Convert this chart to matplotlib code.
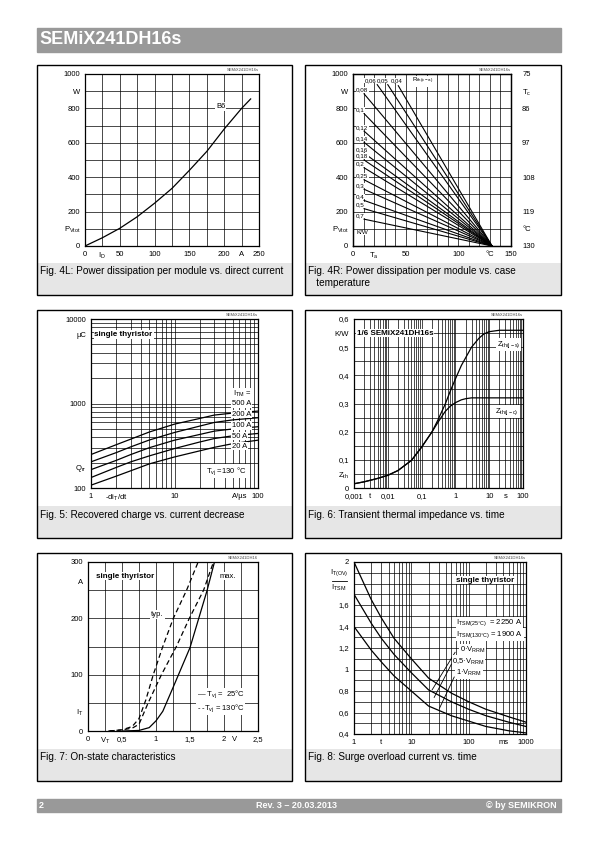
import matplotlib
matplotlib.use('Agg')
import matplotlib.pyplot as plt
from matplotlib.patches import Rectangle
from matplotlib.lines import Line2D

plt.rcParams['font.family'] = ['Liberation Sans', 'DejaVu Sans']
plt.rcParams['mathtext.fontset'] = 'custom'
plt.rcParams['mathtext.rm'] = 'Liberation Sans'
plt.rcParams['mathtext.it'] = 'Liberation Sans:italic'
plt.rcParams['mathtext.bf'] = 'Liberation Sans:bold'

# ---- data ----
# Fig. 4L  P_Vtot vs I_D (B6)
id_a = [0, 25, 50, 75, 100, 125, 150, 175, 200, 225, 238]
pv_b6 = [0, 48, 103, 170, 249, 335, 440, 550, 680, 800, 855]

# Fig. 4R  straight lines P_Vtot vs T_a for each R_th(c-a)
rth_ca = [0.04, 0.05, 0.06, 0.08, 0.1, 0.12, 0.14, 0.16, 0.18, 0.2, 0.25, 0.3, 0.4, 0.5, 0.7]
ta_start = [43, 33, 23, 10.5, 10.5, 10.5, 10.5, 10.5, 10.5, 10.5, 10.5, 10.5, 10.5, 10.5, 10.5]
p_start = [932, 938, 938, 885, 770, 668, 603, 540, 500, 455, 385, 330, 265, 217, 156]
ta_end = 132
tc_labels = ['130', '°C', '119', '108', '97', '86', r'T$_{\mathrm{c}}$', '75']

# Fig. 5  Q_rr vs -di/dt
didt = [1, 2, 3, 5, 10, 20, 30, 50, 100]
qrr_20 = [108, 138, 160, 193, 233, 275, 303, 335, 368]
qrr_50 = [133, 175, 204, 240, 293, 350, 385, 415, 442]
qrr_100 = [165, 212, 249, 300, 368, 430, 471, 500, 531]
qrr_200 = [204, 262, 307, 370, 454, 540, 597, 640, 678]
qrr_500 = [249, 325, 379, 460, 570, 665, 730, 770, 813]
itm_names = ['500 A', '200 A', '100 A', '50 A', '20 A']

# Fig. 6  transient thermal impedance
t_s = [0.001, 0.002, 0.005, 0.01, 0.02, 0.05, 0.1, 0.2, 0.3, 0.5, 0.7, 1, 1.5, 2, 3, 5, 7, 10, 20, 50, 100]
zth_js = [0.015, 0.022, 0.034, 0.045, 0.062, 0.098, 0.145, 0.198, 0.24, 0.298, 0.343, 0.387, 0.435, 0.462, 0.5, 0.532, 0.547, 0.555, 0.56, 0.56, 0.56]
zth_jc = [0.015, 0.022, 0.034, 0.045, 0.062, 0.098, 0.145, 0.198, 0.232, 0.272, 0.29, 0.303, 0.313, 0.317, 0.32, 0.32, 0.32, 0.32, 0.32, 0.32, 0.32]

# Fig. 7  on-state characteristics
vt_typ130 = [0.32, 0.5, 0.65, 0.75, 0.85, 0.96, 1.1, 1.255, 1.45, 1.62]
it_typ130 = [0, 2, 8, 22, 55, 100, 150, 200, 250, 300]
vt_max130 = [0.3, 0.5, 0.65, 0.75, 0.885, 1.08, 1.3, 1.49, 1.7, 1.845]
it_max130 = [0, 2, 5, 12, 50, 100, 150, 200, 250, 300]
vt_25 = [0.52, 0.75, 0.9, 1.0, 1.1, 1.25, 1.5, 1.75, 1.86]
it_25 = [0, 1, 6, 18, 35, 77, 148, 249, 300]

# Fig. 8  surge overload current
t_ms = [1, 2, 3, 5, 10, 20, 50, 100, 200, 500, 1000]
surge_0 = [2.0, 1.65, 1.48, 1.29, 1.10, 0.92, 0.78, 0.70, 0.63, 0.56, 0.51]
surge_05 = [1.70, 1.43, 1.29, 1.14, 0.97, 0.81, 0.70, 0.63, 0.57, 0.51, 0.47]
surge_1 = [1.40, 1.18, 1.07, 0.94, 0.80, 0.66, 0.57, 0.52, 0.47, 0.43, 0.41]

W, H = 595, 842
fig = plt.figure(figsize=(W / 100, H / 100), dpi=100)

def px(x, y):
    return x / W, 1 - y / H

def make_ax(l, t, r, b):
    return fig.add_axes([l / W, 1 - b / H, (r - l) / W, (b - t) / H])

def style(ax):
    ax.tick_params(length=0, labelsize=5.5, pad=3.5)
    for s in ax.spines.values():
        s.set_linewidth(0.9)

def grid(ax, xs, ys):
    ax.vlines(xs, 0, 1, transform=ax.get_xaxis_transform(), colors='k', lw=0.5, zorder=1)
    ax.hlines(ys, 0, 1, transform=ax.get_yaxis_transform(), colors='k', lw=0.5, zorder=1)

def logvals(lo, hi):
    out = []
    d = lo
    while d < hi:
        out += [d * k for k in range(1, 10)]
        d *= 10
    return out + [hi]

def tag(r, t, s='SEMiX241DH16s'):
    fig.text(*px(r, t - 2), s, ha='right', va='bottom', fontsize=3, color='#444444')

white = dict(facecolor='white', edgecolor='none', pad=0.6)
white_tight = dict(facecolor='white', edgecolor='none', pad=0.2)

# header / footer
fig.patches.append(Rectangle(px(37, 52), 524 / W, 24 / H, transform=fig.transFigure, color='#999999'))
fig.text(*px(39, 40), 'SEMiX241DH16s', color='white', fontsize=13, fontweight='bold', va='center')
fig.patches.append(Rectangle(px(37, 812), 524 / W, 13 / H, transform=fig.transFigure, color='#999999'))
fig.text(*px(39, 805.5), '2', color='white', fontsize=6.5, fontweight='bold', va='center')
fig.text(*px(297, 805.5), 'Rev. 3 – 20.03.2013', color='white', fontsize=6.5, fontweight='bold', va='center', ha='center')
fig.text(*px(557, 805.5), '© by SEMIKRON', color='white', fontsize=6.5, fontweight='bold', va='center', ha='right')

# panel frames + caption strips
panels = [(37, 65, 292, 295), (305, 65, 561, 295), (37, 310, 292, 538),
          (305, 310, 561, 538), (37, 553, 292, 781), (305, 553, 561, 781)]
captions = ['Fig. 4L: Power dissipation per module vs. direct current',
            'Fig. 4R: Power dissipation per module vs. case\n   temperature',
            'Fig. 5: Recovered charge vs. current decrease',
            'Fig. 6: Transient thermal impedance vs. time',
            'Fig. 7: On-state characteristics',
            'Fig. 8: Surge overload current vs. time']
for (l, t, r, b), cap in zip(panels, captions):
    fig.patches.append(Rectangle(px(l, b), (r - l) / W, 32 / H, transform=fig.transFigure,
                                 facecolor='#e6e6e6', edgecolor='none'))
    fig.patches.append(Rectangle(px(l, b), (r - l) / W, (b - t) / H, transform=fig.transFigure,
                                 facecolor='none', edgecolor='k', lw=1.0))
    fig.text(*px(l + 3, b - 32 + 3.5), cap, fontsize=7.2, va='top', linespacing=1.25)

# ---- Fig. 4L ----
ax = make_ax(85, 74, 259, 246)
style(ax)
ax.set_xlim(0, 250)
ax.set_ylim(0, 1000)
grid(ax, list(range(0, 251, 25)), list(range(0, 1001, 100)))
ax.plot(id_a, pv_b6, color='k', lw=0.9, zorder=3)
ax.text(195, 810, 'B6', fontsize=5.5, ha='center', va='center', bbox=white, zorder=4)
ax.set_yticks([0, 100, 200, 400, 600, 800, 900, 1000])
ax.set_yticklabels(['0', r'P$_{\mathrm{Vtot}}$', '200', '400', '600', '800', 'W', '1000'])
ax.set_xticks([0, 25, 50, 100, 150, 200, 225, 250])
ax.set_xticklabels(['0', r'I$_{\mathrm{D}}$', '50', '100', '150', '200', 'A', '250'])
tag(259, 74)

# ---- Fig. 4R ----
ax = make_ax(353, 74, 511, 246)
style(ax)
ax.set_xlim(0, 150)
ax.set_ylim(0, 1000)
grid(ax, list(range(0, 151, 10)), list(range(0, 1001, 100)))
top_label_x = [41, 28.5, 16.5]
for i, (r, ts, ps) in enumerate(zip(rth_ca, ta_start, p_start)):
    ax.plot([ts, ta_end], [ps, 0], color='k', lw=0.8, zorder=3)
    lab = ('%g' % r).replace('.', ',')
    if i < 3:
        ax.text(top_label_x[i], 962, lab, fontsize=4.3, ha='center', va='center', bbox=white_tight, zorder=4)
    else:
        ax.text(3, ps + 22, lab, fontsize=4.5, ha='left', va='center', bbox=white_tight, zorder=4)
ax.text(56, 957, r'R$_{\mathrm{th(c-a)}}$', fontsize=4.5, ha='left', va='center', bbox=white_tight, zorder=4)
ax.text(3, 78, 'K/W', fontsize=4.5, ha='left', va='center', bbox=white_tight, zorder=4)
ax.set_yticks([0, 100, 200, 400, 600, 800, 900, 1000])
ax.set_yticklabels(['0', r'P$_{\mathrm{Vtot}}$', '200', '400', '600', '800', 'W', '1000'])
ax.set_xticks([0, 20, 50, 100, 130, 150])
ax.set_xticklabels(['0', r'T$_{\mathrm{a}}$', '50', '100', '°C', '150'])
ax2 = ax.twinx()
ax2.set_ylim(0, 1000)
ax2.set_yticks([0, 100, 200, 400, 600, 800, 900, 1000])
ax2.set_yticklabels(tc_labels)
ax2.tick_params(length=0, labelsize=5.5, pad=8)
for s in ax2.spines.values():
    s.set_linewidth(0.9)
tag(511, 74)

# ---- Fig. 5 ----
ax = make_ax(91, 319, 258, 488)
style(ax)
ax.set_xscale('log')
ax.set_yscale('log')
ax.set_xlim(1, 100)
ax.set_ylim(100, 10000)
ax.minorticks_off()
grid(ax, logvals(1, 100), logvals(100, 10000))
for q in [qrr_20, qrr_50, qrr_100, qrr_200, qrr_500]:
    ax.plot(didt, q, color='k', lw=0.9, zorder=3)
ax.text(1.1, 6600, 'single thyristor', fontsize=5.8, fontweight='bold', va='center', bbox=white, zorder=4)
ax.text(50, 1300, r'I$_{\mathrm{TM}}$ =', fontsize=5.5, va='center', bbox=white, zorder=4)
for name, yv in zip(itm_names, [1000, 750, 545, 411, 313]):
    ax.text(49, yv, name, fontsize=5.5, va='center', bbox=white, zorder=4)
ax.text(24, 159, r'T$_{\mathrm{vj}}$ =130 °C', fontsize=5.5, va='center', bbox=white, zorder=4)
ax.set_yticks([100, 180, 1000, 6600, 10000])
ax.set_yticklabels(['100', r'Q$_{\mathrm{rr}}$', '1000', 'µC', '10000'])
ax.set_xticks([1, 2, 10, 60, 100])
ax.set_xticklabels(['1', r'-di$_{\mathrm{T}}$/dt', '10', 'A/µs', '100'])
tag(258, 319)

# ---- Fig. 6 ----
ax = make_ax(354, 319, 523, 488)
style(ax)
ax.set_xscale('log')
ax.set_xlim(0.001, 100)
ax.set_ylim(0, 0.6)
ax.minorticks_off()
grid(ax, logvals(0.001, 100), [i * 0.05 for i in range(13)])
ax.plot(t_s, zth_js, color='k', lw=0.9, zorder=3)
ax.plot(t_s, zth_jc, color='k', lw=0.9, zorder=3)
ax.text(0.0012, 0.55, '1/6 SEMiX241DH16s', fontsize=5.8, fontweight='bold', va='center', bbox=white, zorder=4)
ax.text(17, 0.51, r'Z$_{\mathrm{th(j-s)}}$', fontsize=5.5, va='center', bbox=white, zorder=4)
ax.text(15, 0.272, r'Z$_{\mathrm{th(j-c)}}$', fontsize=5.5, va='center', bbox=white, zorder=4)
ax.set_yticks([0, 0.05, 0.1, 0.2, 0.3, 0.4, 0.5, 0.55, 0.6])
ax.set_yticklabels(['0', r'Z$_{\mathrm{th}}$', '0,1', '0,2', '0,3', '0,4', '0,5', 'K/W', '0,6'])
ax.set_xticks([0.001, 0.003, 0.01, 0.1, 1, 10, 30, 100])
ax.set_xticklabels(['0,001', 't', '0,01', '0,1', '1', '10', 's', '100'])
tag(523, 319)

# ---- Fig. 7 ----
ax = make_ax(88, 562, 258, 731)
style(ax)
ax.set_xlim(0, 2.5)
ax.set_ylim(0, 300)
grid(ax, [i * 0.25 for i in range(11)], list(range(0, 301, 50)))
ax.plot(vt_typ130, it_typ130, color='k', lw=0.9, ls=(0, (4, 2.5)), zorder=3)
ax.plot(vt_max130, it_max130, color='k', lw=0.9, ls=(0, (4, 2.5)), zorder=3)
ax.plot(vt_25, it_25, color='k', lw=0.9, zorder=3)
ax.text(0.12, 275, 'single thyristor', fontsize=5.8, fontweight='bold', va='center', bbox=white, zorder=4)
ax.text(0.93, 207, 'typ.', fontsize=5.5, va='center', bbox=white, zorder=4)
ax.text(1.94, 275, 'max.', fontsize=5.5, va='center', bbox=white, zorder=4)
ax.text(1.6, 65, r'— T$_{\mathrm{vj}}$ =  25°C', fontsize=5.5, va='center', bbox=white, zorder=4)
ax.text(1.6, 41, r'- -T$_{\mathrm{vj}}$ = 130°C', fontsize=5.5, va='center', bbox=white, zorder=4)
ax.set_yticks([0, 35, 100, 200, 265, 300])
ax.set_yticklabels(['0', r'I$_{\mathrm{T}}$', '100', '200', 'A', '300'])
ax.set_xticks([0, 0.25, 0.5, 1, 1.5, 2, 2.15, 2.5])
ax.set_xticklabels(['0', r'V$_{\mathrm{T}}$', '0,5', '1', '1,5', '2', 'V', '2,5'])
tag(258, 562, 'SEMiX241DH16')

# ---- Fig. 8 ----
ax = make_ax(354, 562, 526, 734)
style(ax)
ax.set_xscale('log')
ax.set_xlim(1, 1000)
ax.set_ylim(0.4, 2.0)
ax.minorticks_off()
grid(ax, logvals(1, 1000), [0.4 + i * 0.1 for i in range(17)])
for s in [surge_0, surge_05, surge_1]:
    ax.plot(t_ms, s, color='k', lw=0.9, zorder=3)
ax.text(61, 1.832, 'single thyristor', fontsize=5.8, fontweight='bold', va='center', bbox=white, zorder=4)
ax.text(61, 1.434, r'I$_{\mathrm{TSM(25°C)}}$  = 2250 A', fontsize=5.5, va='center', bbox=white, zorder=4)
ax.text(61, 1.326, r'I$_{\mathrm{TSM(130°C)}}$ = 1900 A', fontsize=5.5, va='center', bbox=white, zorder=4)
ax.text(70, 1.18, r'0·V$_{\mathrm{RRM}}$', fontsize=5.5, va='center', bbox=white, zorder=4)
ax.text(52, 1.075, r'0,5·V$_{\mathrm{RRM}}$', fontsize=5.5, va='center', bbox=white, zorder=4)
ax.text(60, 0.97, r'1·V$_{\mathrm{RRM}}$', fontsize=5.5, va='center', bbox=white, zorder=4)
ax.plot([58, 23], [1.16, 0.81], color='k', lw=0.6, zorder=3)
ax.plot([50, 25], [1.05, 0.74], color='k', lw=0.6, zorder=3)
ax.plot([56, 31], [0.93, 0.64], color='k', lw=0.6, zorder=3)
ax.set_yticks([0.4, 0.6, 0.8, 1.0, 1.2, 1.4, 1.6, 2.0])
ax.set_yticklabels(['0,4', '0,6', '0,8', '1', '1,2', '1,4', '1,6', '2'])
ax.set_xticks([1, 3, 10, 100, 400, 1000])
ax.set_xticklabels(['1', 't', '10', '100', 'ms', '1000'])
fig.text(*px(339, 573), r'I$_{\mathrm{T(OV)}}$', fontsize=5.5, ha='center', va='center')
fig.lines.append(Line2D([332 / W, 347 / W], [1 - 581 / H, 1 - 581 / H], transform=fig.transFigure, color='k', lw=0.6))
fig.text(*px(339, 588), r'I$_{\mathrm{TSM}}$', fontsize=5.5, ha='center', va='center')
tag(526, 562)

fig.savefig('out.png', dpi=100)
